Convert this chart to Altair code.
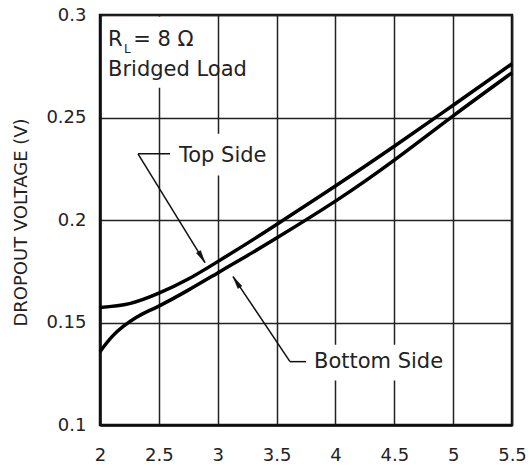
import altair as alt
import pandas as pd

# ---- data ----
x_top = [2.0, 2.25, 2.5, 2.75, 3.0, 3.25, 3.5, 4.0, 4.5, 5.0, 5.5]
y_top = [0.1573, 0.1592, 0.1643, 0.1712, 0.1797, 0.1886, 0.1978, 0.2166, 0.2360, 0.2560, 0.2762]

x_bot = [2.0, 2.1, 2.2, 2.3, 2.4, 2.5, 2.75, 3.0, 3.25, 3.5, 4.0, 4.5, 5.0, 5.5]
y_bot = [0.1358, 0.1430, 0.1482, 0.1522, 0.1553, 0.1580, 0.1658, 0.1742, 0.1826, 0.1912, 0.2092, 0.2292, 0.2508, 0.2718]

x_ticks = [2, 2.5, 3, 3.5, 4, 4.5, 5, 5.5]
y_ticks = [0.1, 0.15, 0.2, 0.25, 0.3]

# annotation anchors (data coordinates)
label_text = ["R", "L", "= 8 Ω", "Bridged Load", "Top Side", "Bottom Side"]
label_x = [2.068, 2.204, 2.282, 2.068, 2.671, 3.818]
label_y = [0.2876, 0.2834, 0.2876, 0.2730, 0.2313, 0.1305]
label_size = [21, 12, 21, 21, 21, 21]

# white boxes behind labels
box_x = [2.025, 2.637, 3.793]
box_x2 = [2.85, 3.461, 4.940]
box_y = [0.2991, 0.2421, 0.1392]
box_y2 = [0.2645, 0.2217, 0.1217]

# leader lines
lead_x = [2.323, 2.323, 3.614, 3.614]
lead_y = [0.2323, 0.2323, 0.1309, 0.1309]
lead_x2 = [2.595, 2.892, 3.750, 3.130]
lead_y2 = [0.2323, 0.1792, 0.1309, 0.1724]

# arrow tips and headings (degrees, clockwise from up)
tip_x = [2.892, 3.130]
tip_y = [0.1792, 0.1724]
tip_angle = [149, 327]

curves = pd.concat([
    pd.DataFrame({"V": x_top, "D": y_top, "side": "Top Side"}),
    pd.DataFrame({"V": x_bot, "D": y_bot, "side": "Bottom Side"}),
])
labels = pd.DataFrame({"t": label_text, "x": label_x, "y": label_y, "s": label_size})
boxes = pd.DataFrame({"x": box_x, "x2": box_x2, "y": box_y, "y2": box_y2})
leads = pd.DataFrame({"x": lead_x, "y": lead_y, "x2": lead_x2, "y2": lead_y2})
tips = pd.DataFrame({"x": tip_x, "y": tip_y, "a": tip_angle})

FONT = "DejaVu Sans"
xs = alt.Scale(domain=[2, 5.5], nice=False, zero=False)
ys = alt.Scale(domain=[0.1, 0.3], nice=False, zero=False)

xax = alt.Axis(values=x_ticks, format=".1~f", title=None, ticks=False, labelPadding=21,
               labelFontSize=18, labelFont=FONT, labelColor="#222", grid=True,
               gridColor="#222", gridWidth=1.5, domainColor="#111", domainWidth=2.5,
               labelFlush=False)
yax = alt.Axis(values=y_ticks, format=".2~f", title="DROPOUT VOLTAGE (V)", ticks=False,
               labelPadding=14, labelFontSize=18, labelFont=FONT, labelColor="#222",
               grid=True, gridColor="#222", gridWidth=1.5, domainColor="#111",
               domainWidth=2.5, titleFont=FONT, titleFontSize=18, titleFontWeight="normal",
               titleColor="#222", titleX=-79, titleY=207, titleAngle=-90,
               titleAlign="center", titleBaseline="middle", labelFlush=False)

base_x = alt.X("V:Q", scale=xs, axis=xax)
base_y = alt.Y("D:Q", scale=ys, axis=yax)

lines = alt.Chart(curves).mark_line(color="black", strokeWidth=3.5, interpolate="natural").encode(
    x=base_x, y=base_y, detail="side:N")

bg = alt.Chart(boxes).mark_rect(color="white").encode(
    x=alt.X("x:Q", scale=xs), x2="x2:Q", y=alt.Y("y:Q", scale=ys), y2="y2:Q")

lead = alt.Chart(leads).mark_rule(color="#111", strokeWidth=1.5).encode(
    x=alt.X("x:Q", scale=xs), x2="x2:Q", y=alt.Y("y:Q", scale=ys), y2="y2:Q")

heads = alt.Chart(tips).mark_point(
    shape="M0,0L0.38,2L-0.38,2Z", filled=True, fill="#111", stroke="#111", strokeWidth=0.5,
    opacity=1, size=160
).encode(x=alt.X("x:Q", scale=xs), y=alt.Y("y:Q", scale=ys), angle=alt.Angle("a:Q", scale=None))

txt = alt.Chart(labels).mark_text(align="left", baseline="middle", font=FONT, color="#222").encode(
    x=alt.X("x:Q", scale=xs), y=alt.Y("y:Q", scale=ys), text="t:N",
    size=alt.Size("s:Q", scale=None, legend=None))

chart = alt.layer(bg, lines, lead, heads, txt).properties(
    width=412, height=410,
    autosize=alt.AutoSizeParams(type="none"),
    padding={"left": 100, "top": 15, "right": 18, "bottom": 45},
    background="white",
).configure_view(stroke="#111", strokeWidth=2.5)

chart.save("out.html", embed_options={"renderer": "svg", "actions": False})
